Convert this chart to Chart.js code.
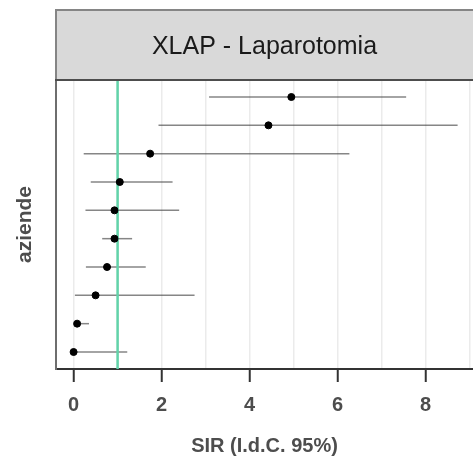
<!DOCTYPE html>
<html>
<head>
<meta charset="utf-8">
<script src="https://cdn.jsdelivr.net/npm/chart.js@4"></script>
<style>
  body { margin: 0; background: #fff; }
  canvas { display: block; }
</style>
</head>
<body>
<canvas id="sirChart" width="473" height="459"></canvas>
<script>
const stripLabel = 'XLAP - Laparotomia';
// one row per azienda, top to bottom
const rows = [1, 2, 3, 4, 5, 6, 7, 8, 9, 10];
const sir = [4.95, 4.43, 1.74, 1.05, 0.93, 0.93, 0.76, 0.50, 0.08, 0.00];
const lower = [3.08, 1.93, 0.23, 0.39, 0.27, 0.65, 0.28, 0.03, 0.03, 0.00];
const upper = [7.56, 8.73, 6.27, 2.25, 2.40, 1.33, 1.64, 2.75, 0.35, 1.22];
const refValue = 1;
const xTicks = [0, 2, 4, 6, 8];

Chart.defaults.font.family = '"Liberation Sans", Arial, sans-serif';

const stripPlugin = {
    id: 'strip',
    afterDraw(chart) {
        const { ctx, chartArea } = chart;
        ctx.save();
        ctx.fillStyle = '#d9d9d9';
        ctx.fillRect(chartArea.left, 10, chart.width - chartArea.left + 5, chartArea.top - 10);
        ctx.strokeStyle = '#858585';
        ctx.lineWidth = 2;
        ctx.strokeRect(chartArea.left, 10, chart.width - chartArea.left + 5, chartArea.top - 10);
        // panel top border
        ctx.strokeStyle = '#4d4d4d';
        ctx.beginPath();
        ctx.moveTo(chartArea.left - 1, chartArea.top);
        ctx.lineTo(chart.width, chartArea.top);
        ctx.stroke();
        ctx.fillStyle = '#1a1a1a';
        ctx.font = '25px "Liberation Sans", Arial, sans-serif';
        ctx.textAlign = 'center';
        ctx.textBaseline = 'middle';
        ctx.fillText(stripLabel, (chartArea.left + chartArea.right) / 2, 47);
        ctx.restore();
    }
};

const errorBars = rows.map((r, i) => ({
    type: 'line',
    data: [{ x: lower[i], y: r }, { x: upper[i], y: r }],
    borderColor: 'rgba(60,60,60,0.62)',
    borderWidth: 1.5,
    pointRadius: 0,
    order: 3
}));

const ctx = document.getElementById('sirChart').getContext('2d');
new Chart(ctx, {
    type: 'scatter',
    data: {
        datasets: [
            {
                data: rows.map((r, i) => ({ x: sir[i], y: r })),
                backgroundColor: '#000',
                borderColor: '#000',
                pointRadius: 3.5,
                order: 1
            },
            {
                type: 'line',
                data: [{ x: refValue, y: 0.4 }, { x: refValue, y: 10.6 }],
                borderColor: '#62d3a9',
                borderWidth: 2.5,
                pointRadius: 0,
                order: 2
            },
            ...errorBars
        ]
    },
    options: {
        responsive: false,
        animation: false,
        layout: { autoPadding: false, padding: { top: 80, right: 0, left: 0, bottom: 0 } },
        plugins: {
            legend: { display: false },
            tooltip: { enabled: false }
        },
        scales: {
            x: {
                type: 'linear',
                min: -0.4,
                max: 9.08,
                afterFit: scale => {
                    scale.height = 90;
                    scale.paddingLeft = 0;
                    scale.paddingRight = 0;
                },
                ticks: {
                    stepSize: 1,
                    includeBounds: false,
                    padding: 11,
                    color: '#4d4d4d',
                    font: { size: 20, weight: 'bold' },
                    callback: v => xTicks.includes(v) ? v : ''
                },
                grid: {
                    color: '#ebebeb',
                    lineWidth: 1.5,
                    tickLength: 13,
                    tickWidth: 2,
                    tickColor: c => xTicks.includes(c.tick.value) ? '#333333' : 'rgba(0,0,0,0)'
                },
                border: { color: '#333333', width: 2 },
                title: {
                    display: true,
                    text: 'SIR (I.d.C. 95%)',
                    color: '#4d4d4d',
                    font: { size: 20, weight: 'bold' },
                    padding: { top: 0, bottom: 1 }
                }
            },
            y: {
                type: 'linear',
                min: 0.4,
                max: 10.6,
                reverse: true,
                afterFit: scale => { scale.width = 56; },
                ticks: { display: false },
                grid: { display: false },
                border: { color: '#6e6e6e', width: 2 },
                title: {
                    display: true,
                    text: 'aziende',
                    color: '#4d4d4d',
                    font: { size: 21, weight: 'bold' },
                    padding: { top: 12.5, bottom: 0 }
                }
            }
        }
    },
    plugins: [stripPlugin]
});
</script>
</body>
</html>
